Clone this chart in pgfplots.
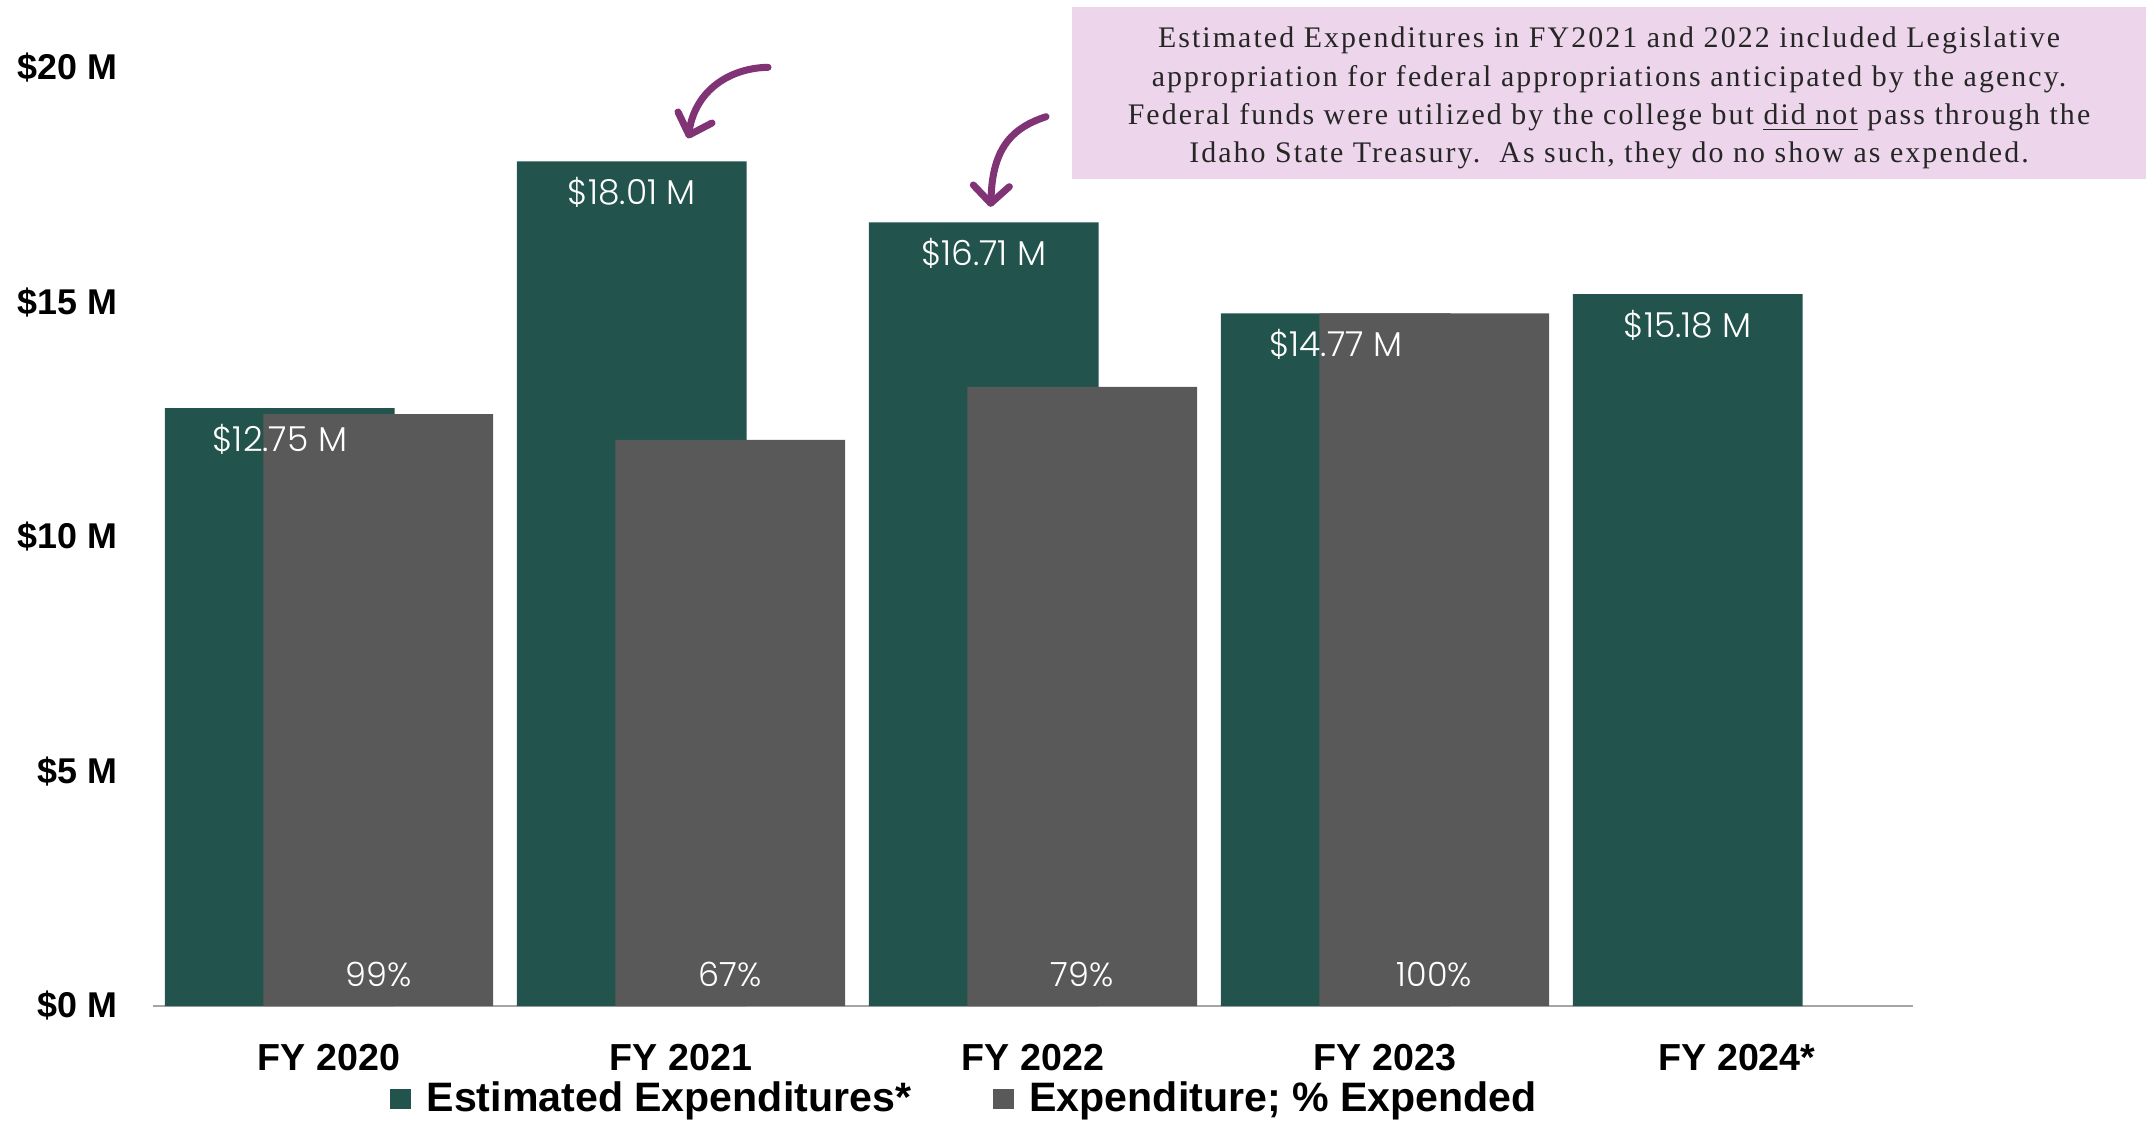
\documentclass[border=0pt]{standalone}
\usepackage{pgfplots}
\pgfplotsset{compat=1.18}
\usepackage{fontspec}
\setmainfont{Liberation Sans}
\newfontfamily\serifann{Liberation Serif}[LetterSpace=7]
\newfontfamily\valfont{Poppins Light}
\definecolor{estgreen}{RGB}{34,84,77}
\definecolor{expgray}{RGB}{89,89,89}
\definecolor{notepink}{RGB}{237,214,235}
\definecolor{arrowpurple}{RGB}{128,51,117}
\definecolor{axisgray}{RGB}{165,165,165}
\begin{document}
\begin{tikzpicture}[x=1cm,y=1cm]
\useasboundingbox (0,0) rectangle (21.46,11.25);
\begin{axis}[
  at={(1.53cm,1.19cm)}, anchor=south west,
  width=17.60cm, height=9.38cm, scale only axis,
  xmin=-0.5, xmax=4.5, ymin=0, ymax=20,
  enlargelimits=false, clip=false,
  axis x line*=bottom, axis y line*=left,
  y axis line style={draw=none},
  x axis line style={draw=axisgray, line width=0.6pt},
  major tick length=0pt,
  xtick={0,1,2,3,4},
  xticklabels={FY 2020,FY 2021,FY 2022,FY 2023,FY 2024*},
  xticklabel style={font=\fontsize{10.7}{12}\selectfont\bfseries, anchor=base, yshift=-18.3pt},
  ytick={0,5,10,15,20},
  yticklabels={\$0 M,\$5 M,\$10 M,\$15 M,\$20 M},
  yticklabel style={font=\fontsize{10.2}{12}\selectfont\bfseries, anchor=east, xshift=-6.6pt},
  legend style={at={(0.4625,-0.0991)}, anchor=center, draw=none, fill=none,
    font=\fontsize{11.7}{13}\selectfont\bfseries,
    /tikz/every even column/.append style={column sep=0.75cm}},
  legend columns=2, legend cell align=left,
]
\addlegendimage{legend image code/.code={\fill[estgreen] (0cm,-0.095cm) rectangle (0.19cm,0.095cm);\path (0.28cm,0cm);}}
\addlegendentry{Estimated Expenditures*}
\addlegendimage{legend image code/.code={\fill[expgray] (0cm,-0.095cm) rectangle (0.19cm,0.095cm);\path (0.28cm,0cm);}}
\addlegendentry{Expenditure; \% Expended}
% Estimated expenditures (green)
\addplot[ybar, bar width=0.653, bar shift=0pt, fill=estgreen, draw=none, forget plot]
  coordinates {(-0.14,12.75) (0.86,18.01) (1.86,16.71) (2.86,14.77) (3.86,15.18)};
% Expenditure (gray)
\addplot[ybar, bar width=0.653, bar shift=0pt, fill=expgray, draw=none, forget plot]
  coordinates {(0.14,12.62) (1.14,12.07) (2.14,13.20) (3.14,14.77)};
% value labels
\addplot[draw=none, forget plot, point meta=y,
  nodes near coords={\$\pgfmathprintnumber[assume math mode=true,fixed,precision=2,fixed zerofill]{\pgfplotspointmeta}~M},
  nodes near coords style={anchor=center, yshift=-8.9pt, text=white, font=\valfont\fontsize{9.8}{11}\selectfont}]
  coordinates {(-0.14,12.75) (0.86,18.01) (1.86,16.71) (2.86,14.77) (3.86,15.18)};
% percent labels
\addplot[draw=none, forget plot, point meta=explicit symbolic, nodes near coords,
  nodes near coords style={anchor=center, text=white, font=\valfont\fontsize{9.5}{10}\selectfont}]
  coordinates {(0.14,0.67)[99\%] (1.14,0.67)[67\%] (2.14,0.67)[79\%] (3.14,0.67)[100\%]};
\end{axis}
% note box
\fill[notepink] (10.72,9.46) rectangle (21.46,11.18);
\node[align=center, text=black!85, font=\serifann\fontsize{8.5}{10.85}\selectfont] at (16.09,10.27)
  {Estimated Expenditures in FY2021 and 2022 included Legislative\\
   appropriation for federal appropriations anticipated by the agency.\\
   Federal funds were utilized by the college but \underline{did not} pass through the\\
   Idaho State Treasury.\ \ As such, they do no show as expended.};
% arrows
\draw[arrowpurple, line width=2pt, line cap=round] (7.68,10.577) .. controls (7.3,10.57) and (6.95,10.35) .. (6.89,9.93);
\draw[arrowpurple, line width=2pt, line cap=round, line join=round] (6.78,10.13) -- (6.89,9.90) -- (7.12,10.02);
\draw[arrowpurple, line width=2pt, line cap=round] (10.46,10.083) .. controls (10.15,9.98) and (9.92,9.8) .. (9.91,9.25);
\draw[arrowpurple, line width=2pt, line cap=round, line join=round] (9.733,9.40) -- (9.907,9.217) -- (10.093,9.383);
\end{tikzpicture}
\end{document}
